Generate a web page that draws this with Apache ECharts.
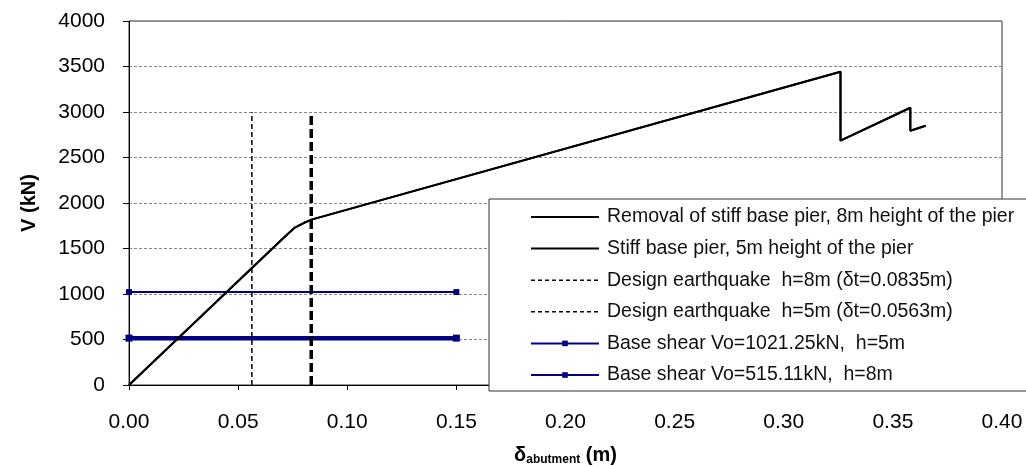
<!DOCTYPE html>
<html>
<head>
<meta charset="utf-8">
<script src="https://cdn.jsdelivr.net/npm/echarts@6/dist/echarts.min.js"></script>
<style>
  html, body { margin: 0; padding: 0; background: #fff; }
  #chart { width: 1026px; height: 466px; }
</style>
</head>
<body>
<div id="chart"></div>
<script>
// pushover curve (abutment displacement vs base shear)
const curveX = [0, 0.071, 0.076, 0.080, 0.084, 0.326, 0.326, 0.358, 0.358, 0.365];
const curveY = [0, 1620, 1730, 1780, 1820, 3443, 2685, 3047, 2794, 2849];

// design earthquake target displacements
const eq8X = 0.0835;
const eq5X = 0.0563;
const eqTop = 3000;

// base shear levels
const shearEndX = 0.15;
const shear5 = 1021.25;
const shear8 = 515.11;

const names = [
  "Removal of stiff base pier, 8m height of the pier",
  "Stiff base pier, 5m height of the pier",
  "Design earthquake  h=8m (δt=0.0835m)",
  "Design earthquake  h=5m (δt=0.0563m)",
  "Base shear Vo=1021.25kN,  h=5m",
  "Base shear Vo=515.11kN,  h=8m",
];

const FONT = "Liberation Sans, Arial, sans-serif";
const curve = curveX.map((x, i) => [x, curveY[i]]);
const noDot = { opacity: 0 };

const chart = echarts.init(document.getElementById("chart"));

const option = {
  animation: false,
  backgroundColor: "#fff",
  textStyle: { fontFamily: FONT },
  grid: {
    left: 129,
    right: 24,
    top: 21,
    bottom: 81,
    outerBoundsMode: "none",
    containLabel: false,
    show: true,
    borderColor: "#333",
    borderWidth: 1,
  },
  legend: {
    orient: "vertical",
    left: 489,
    top: 199,
    padding: [8, 40, 6, 41],
    itemWidth: 68,
    itemHeight: 7,
    itemGap: 11.6,
    backgroundColor: "#fff",
    borderColor: "#333",
    borderWidth: 1,
    borderRadius: 0,
    textStyle: {
      fontSize: 19.5,
      color: "#111",
      fontFamily: FONT,
      padding: [0, 0, 0, 3],
    },
    data: [
      { name: names[0], icon: "inherit", itemStyle: noDot },
      { name: names[1], icon: "inherit", itemStyle: noDot },
      { name: names[2], icon: "inherit", itemStyle: noDot, lineStyle: { width: 1.5, type: [4, 3] } },
      { name: names[3], icon: "inherit", itemStyle: noDot, lineStyle: { width: 1.5, type: [4, 3] } },
      { name: names[4], icon: "inherit" },
      { name: names[5], icon: "inherit", lineStyle: { width: 2 } },
    ],
  },
  xAxis: {
    type: "value",
    min: 0,
    max: 0.4,
    interval: 0.05,
    name: "{b|δ}{s|abutment}{b| (m)}",
    nameLocation: "middle",
    nameGap: 59,
    nameTextStyle: {
      rich: {
        b: { fontSize: 20, fontWeight: "bold", color: "#000", fontFamily: FONT },
        s: {
          fontSize: 12,
          fontWeight: "bold",
          color: "#000",
          fontFamily: FONT,
          padding: [10, 0, 0, 0],
        },
      },
    },
    axisLine: { lineStyle: { color: "#000", width: 1 } },
    axisTick: { length: 5, lineStyle: { color: "#000" } },
    axisLabel: {
      fontSize: 21,
      color: "#000",
      margin: 27,
      formatter: (v) => v.toFixed(2),
    },
    splitLine: { show: false },
  },
  yAxis: {
    type: "value",
    min: 0,
    max: 4000,
    interval: 500,
    name: "V (kN)",
    nameLocation: "middle",
    nameGap: 90,
    nameTextStyle: { fontSize: 20, fontWeight: "bold", color: "#000" },
    axisLine: { show: true, lineStyle: { color: "#000", width: 1 } },
    axisTick: { show: true, length: 6, lineStyle: { color: "#000" } },
    axisLabel: {
      fontSize: 21,
      color: "#000",
      margin: 24,
      formatter: (v) => String(v),
    },
    splitLine: { lineStyle: { color: "#888", type: [3, 2], width: 1 } },
  },
  series: [
    {
      name: names[4],
      type: "line",
      data: [[0, shear5], [shearEndX, shear5]],
      symbol: "rect",
      symbolSize: 6,
      lineStyle: { color: "#000080", width: 2 },
      itemStyle: { color: "#000080" },
      z: 2,
    },
    {
      name: names[5],
      type: "line",
      data: [[0, shear8], [shearEndX, shear8]],
      symbol: "rect",
      symbolSize: 7,
      lineStyle: { color: "#000080", width: 4.5 },
      itemStyle: { color: "#000080" },
      z: 2,
    },
    {
      name: names[0],
      type: "line",
      data: curve,
      symbol: "none",
      lineStyle: { color: "#000", width: 2 },
      itemStyle: { color: "#000" },
      z: 3,
    },
    {
      name: names[1],
      type: "line",
      data: curve,
      symbol: "none",
      lineStyle: { color: "#000", width: 2 },
      itemStyle: { color: "#000" },
      z: 3,
    },
    {
      name: names[2],
      type: "line",
      data: [[eq8X, 0], [eq8X, eqTop]],
      symbol: "none",
      lineStyle: { color: "#000", width: 3.5, type: [9, 4] },
      itemStyle: { color: "#000" },
      z: 4,
    },
    {
      name: names[3],
      type: "line",
      data: [[eq5X, 0], [eq5X, eqTop]],
      symbol: "none",
      lineStyle: { color: "#000", width: 1.5, type: [5, 3] },
      itemStyle: { color: "#000" },
      z: 4,
    },
  ],
};

chart.setOption(option);
</script>
</body>
</html>
